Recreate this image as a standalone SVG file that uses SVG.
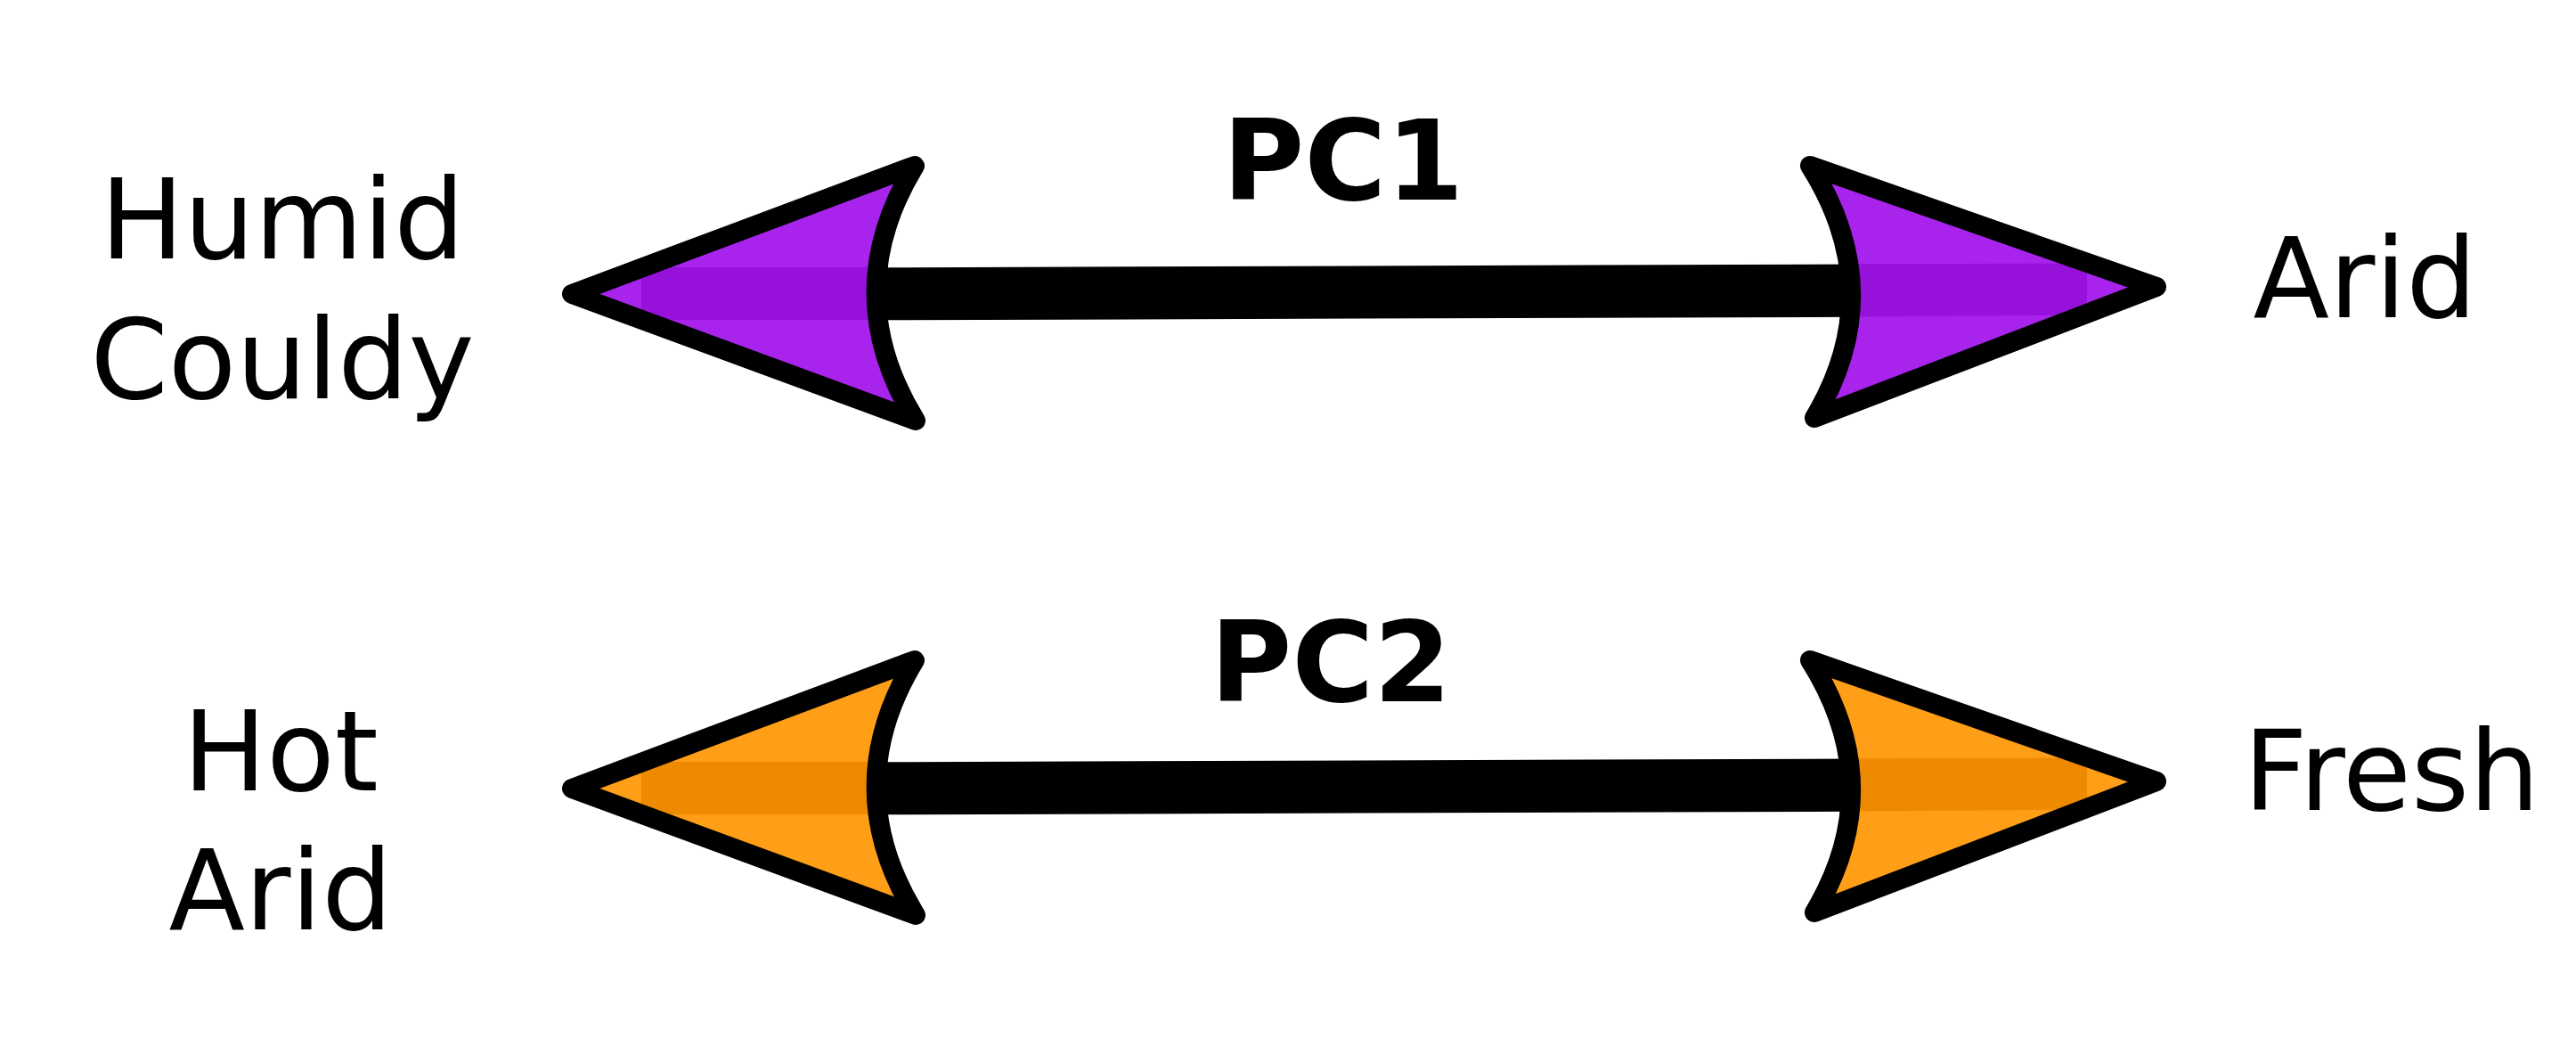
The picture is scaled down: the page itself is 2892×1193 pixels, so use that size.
<svg xmlns="http://www.w3.org/2000/svg" width="2892" height="1193" viewBox="0 0 2892 1193">
<style>
.lbl{font-family:"DejaVu Sans","Liberation Sans",sans-serif;font-size:125px;fill:#000;text-anchor:middle}
.pc{font-weight:bold}
.shaft{fill:#000}
.outline{fill:none;stroke:#000;stroke-width:22;stroke-linejoin:round;stroke-linecap:round}
.p-light{fill:#A824EC}
.p-dark{fill:#9612DA}
.o-light{fill:#FF9E17}
.o-dark{fill:#EE8A00}
</style>
<defs>
<path id="headL" d="M642,330 L1027,186 Q940,329 1028,472 Z"/>
<path id="headR" d="M2421,322 L2032,186 Q2121.5,327.5 2037,469 Z"/>
<clipPath id="clipL" clipPathUnits="userSpaceOnUse"><use href="#headL"/></clipPath>
<clipPath id="clipR" clipPathUnits="userSpaceOnUse"><use href="#headR"/></clipPath>
</defs>
<rect width="2892" height="1193" fill="#fff"/>
<g id="connectors">
<g id="pc1-arrow">
<polygon class="shaft" points="980,300.3 2085,296.5 2085,355.8 980,359.3"/>
<use href="#headL" class="p-light"/>
<rect class="p-dark" x="720" y="300" width="300" height="59" clip-path="url(#clipL)"/>
<use href="#headL" class="outline"/>
<use href="#headR" class="p-light"/>
<polygon class="p-dark" points="2030,296.5 2343,295.5 2343,353.5 2030,355.8" clip-path="url(#clipR)"/>
<use href="#headR" class="outline"/>
</g>
<g id="pc2-arrow" transform="translate(0,555)">
<polygon class="shaft" points="980,300.3 2085,296.5 2085,355.8 980,359.3"/>
<use href="#headL" class="o-light"/>
<rect class="o-dark" x="720" y="300" width="300" height="59" clip-path="url(#clipL)"/>
<use href="#headL" class="outline"/>
<use href="#headR" class="o-light"/>
<polygon class="o-dark" points="2030,296.5 2343,295.5 2343,353.5 2030,355.8" clip-path="url(#clipR)"/>
<use href="#headR" class="outline"/>
</g>
</g>
<g id="pc1-label"><text class="lbl pc" x="1508" y="224">PC1</text></g>
<g id="pc2-label"><text class="lbl pc" x="1494" y="787">PC2</text></g>
<g id="humid-couldy"><text class="lbl" x="317" y="290">Humid</text><text class="lbl" x="317" y="447">Couldy</text></g>
<g id="arid"><text class="lbl" x="2655" y="356">Arid</text></g>
<g id="hot-arid"><text class="lbl" x="315" y="887">Hot</text><text class="lbl" x="315" y="1043">Arid</text></g>
<g id="fresh"><text class="lbl" x="2685" y="909">Fresh</text></g>
</svg>
